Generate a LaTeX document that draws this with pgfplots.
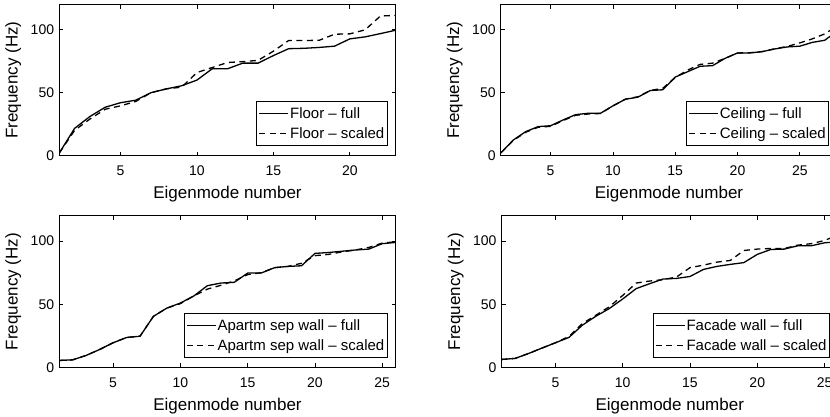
\documentclass[border=0pt]{standalone}
\usepackage{fontspec}
\setmainfont{Liberation Sans}
\usepackage{pgfplots}
\pgfplotsset{compat=1.18}

\pgfplotsset{
  panel/.style={
    scale only axis,
    width=336.4pt,
    xmin=1, ymin=0, ymax=120,
    ytick={0,50,100},
    xtick={5,10,15,20,25},
    tick align=inside,
    xtick pos=both, ytick pos=both,
    major tick length=4pt,
    axis line style={line width=0.9pt},
    every tick/.style={black, line width=0.8pt},
    /pgf/number format/assume math mode=true,
    tick label style={font=\fontsize{14}{16}\selectfont},
    xticklabel style={anchor=base, inner sep=0pt, yshift=-19.8pt},
    yticklabel style={anchor=east, inner sep=0pt, xshift=-5pt},
    xlabel={Eigenmode number},
    ylabel={Frequency (Hz)},
    every axis x label/.style={at={(axis description cs:0.5,-0.2865)}, anchor=base,
      font=\fontsize{17}{19}\selectfont},
    every axis y label/.style={at={(axis description cs:-0.1367,0.5)}, rotate=90, anchor=center,
      font=\fontsize{17}{19}\selectfont},
    legend style={at={(1,0)}, anchor=south east, xshift=-8pt, yshift=9.6pt,
      draw=black, line width=0.8pt, font=\fontsize{15}{18}\selectfont,
      inner xsep=2pt, inner ysep=4.5pt, row sep=6pt,
      nodes={inner sep=1pt}},
    legend cell align=left,
    legend image code/.code={\draw[#1] (0pt,0pt) -- (29pt,0pt);},
  },
  full/.style={black, line width=1.3pt, solid},
  scaled/.style={black, line width=1.3pt, dash pattern=on 6pt off 4.5pt},
}

\begin{document}
\begin{tikzpicture}
\useasboundingbox (0pt,0pt) rectangle (830pt,416pt);
\clip (0pt,0pt) rectangle (830pt,416pt);

% Floor
\begin{axis}[panel, at={(59.3pt,260.5pt)}, anchor=south west, height=150.8pt, xmax=23]
\addplot[full] coordinates {(1,2) (2,21.6) (3,31) (4,38.4) (5,42) (6,44) (7,50) (8,53) (9,55.5) (10,60) (11,69) (12,69) (13,73.5) (14,73.5) (15,79.5) (16,85) (17,85.3) (18,86) (19,87) (20,92.8) (21,94.4) (22,97) (23,99.7)};
\addlegendentry{Floor – full}
\addplot[scaled] coordinates {(1,2) (2,20) (3,29) (4,36.8) (5,39.5) (6,43) (7,50) (8,53) (9,54.4) (10,66) (11,70) (12,74) (13,74.7) (14,75.7) (15,83) (16,91.5) (17,91.5) (18,91.7) (19,96.5) (20,96.8) (21,100) (22,111) (23,111.5)};
\addlegendentry{Floor – scaled}
\end{axis}

% Ceiling
\begin{axis}[panel, at={(500.8pt,260.5pt)}, anchor=south west, height=150.8pt, xmax=28]
\addplot[full] coordinates {(1,2) (2,12.3) (3,19) (4,23) (5,23.7) (6,28.3) (7,32.5) (8,33.6) (9,33.6) (10,39.5) (11,44.8) (12,46.4) (13,51.7) (14,52.3) (15,62.4) (16,66.7) (17,71) (18,71.5) (19,77.3) (20,81.6) (21,81.6) (22,82.7) (23,84.8) (24,86.4) (25,87) (26,90) (27,91.7) (28,99)};
\addlegendentry{Ceiling – full}
\addplot[scaled] coordinates {(1,2) (2,12) (3,18.5) (4,22.5) (5,23.2) (6,27.8) (7,32) (8,33) (9,33.4) (10,39.5) (11,44.8) (12,46.8) (13,51.7) (14,53.5) (15,62) (16,68) (17,72.5) (18,73.5) (19,77.3) (20,81.6) (21,81.8) (22,82.7) (23,85) (24,86.8) (25,89.6) (26,92.8) (27,96.8) (28,103)};
\addlegendentry{Ceiling – scaled}
\end{axis}

% Apartment separating wall
\begin{axis}[panel, at={(59.3pt,48.6pt)}, anchor=south west, height=151.5pt, xmax=26]
\addplot[full] coordinates {(1,5.5) (2,6) (3,9.5) (4,14.2) (5,19.5) (6,23.7) (7,24.7) (8,40.5) (9,47) (10,51) (11,56.6) (12,64.7) (13,66.8) (14,67.4) (15,74.7) (16,74.7) (17,79) (18,80) (19,80.5) (20,90.3) (21,91) (22,92) (23,93) (24,93.7) (25,98) (26,99)};
\addlegendentry{Apartm sep wall – full}
\addplot[scaled] coordinates {(1,5.5) (2,6) (3,9.5) (4,14.2) (5,19.5) (6,23.7) (7,24.7) (8,40.5) (9,47) (10,50.5) (11,56.6) (12,62) (13,65) (14,68.5) (15,73.5) (16,75) (17,79) (18,80) (19,82.5) (20,88.5) (21,89.5) (22,91.5) (23,93) (24,95) (25,98.5) (26,99.5)};
\addlegendentry{Apartm sep wall – scaled}
\end{axis}

% Facade wall
\begin{axis}[panel, at={(501.6pt,48.6pt)}, anchor=south west, height=151.5pt, xmax=26]
\addplot[full] coordinates {(1,6.3) (2,7.1) (3,11) (4,15.3) (5,19.5) (6,23.7) (7,33.4) (8,40.5) (9,46.6) (10,54.2) (11,62.4) (12,66.3) (13,70) (14,70.5) (15,72) (16,77.6) (17,80) (18,81.6) (19,83) (20,89.5) (21,93.4) (22,93.7) (23,96.3) (24,96.3) (25,98.7) (26,99.5)};
\addlegendentry{Facade wall – full}
\addplot[scaled] coordinates {(1,6.3) (2,7.1) (3,11) (4,15.3) (5,19.5) (6,24.5) (7,34.7) (8,41.3) (9,48) (10,57) (11,66.8) (12,68.4) (13,69.5) (14,71.6) (15,79) (16,81) (17,83.4) (18,84.7) (19,92.6) (20,93.7) (21,94.2) (22,94.2) (23,96.8) (24,98) (25,100.5) (26,105)};
\addlegendentry{Facade wall – scaled}
\end{axis}
\end{tikzpicture}
\end{document}
